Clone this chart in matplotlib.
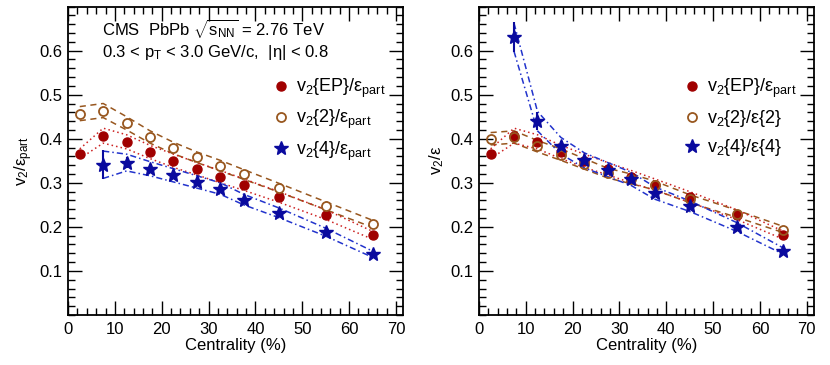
import numpy as np
import matplotlib
matplotlib.use('Agg')
import matplotlib.pyplot as plt
from matplotlib.ticker import MultipleLocator
from matplotlib.lines import Line2D

plt.rcParams['font.family'] = ['Liberation Sans', 'DejaVu Sans']
plt.rcParams['mathtext.fontset'] = 'custom'
plt.rcParams['mathtext.rm'] = 'Liberation Sans'
plt.rcParams['mathtext.it'] = 'Liberation Sans:italic'

# centrality bin centres (%)
cent = np.array([2.5, 7.5, 12.5, 17.5, 22.5, 27.5, 32.5, 37.5, 45, 55, 65])
cent4 = cent[1:]

# left panel: v2 / eps_part
ep_part = np.array([0.366, 0.407, 0.393, 0.370, 0.350, 0.332, 0.314, 0.296, 0.268, 0.228, 0.181])
ep_sys = np.array([0.011, 0.017, 0.016, 0.015, 0.015, 0.014, 0.014, 0.013, 0.012, 0.011, 0.009])
v22_part = np.array([0.457, 0.464, 0.435, 0.404, 0.379, 0.358, 0.339, 0.319, 0.289, 0.248, 0.207])
v22_sys = np.array([0.016, 0.016, 0.015, 0.014, 0.013, 0.012, 0.012, 0.011, 0.010, 0.009, 0.008])
v24_part = np.array([0.341, 0.346, 0.332, 0.317, 0.302, 0.287, 0.262, 0.232, 0.188, 0.138])
v24_err = np.array([0.033, 0.012, 0.007, 0.005, 0.004, 0.004, 0.003, 0.003, 0.003, 0.003])
v24_sys = np.array([0.031, 0.019, 0.016, 0.015, 0.014, 0.013, 0.012, 0.011, 0.009, 0.007])

# right panel: v2 / eps{n}
v22_e2 = np.array([0.400, 0.404, 0.383, 0.364, 0.343, 0.322, 0.309, 0.294, 0.264, 0.230, 0.194])
v22_e2_sys = np.array([0.014, 0.014, 0.013, 0.013, 0.012, 0.011, 0.011, 0.010, 0.009, 0.008, 0.007])
v24_e4 = np.array([0.630, 0.440, 0.384, 0.351, 0.330, 0.309, 0.277, 0.247, 0.200, 0.145])
v24_e4_err = np.array([0.034, 0.020, 0.010, 0.006, 0.004, 0.004, 0.003, 0.003, 0.003, 0.003])
v24_e4_sys = np.array([0.032, 0.022, 0.019, 0.017, 0.016, 0.015, 0.014, 0.012, 0.010, 0.007])

c_red = '#a00000'
c_brown = '#98571f'
c_blue = '#0a0a9e'

fig = plt.figure(figsize=(8.3, 3.65), dpi=100)
axL = fig.add_axes([0.082, 0.137, 0.4035, 0.845])
axR = fig.add_axes([0.577, 0.137, 0.4035, 0.845])


def band(ax, x, y, s, color, ls):
    ax.plot(x, y + s, color=color, ls=ls, lw=1.1)
    ax.plot(x, y - s, color=color, ls=ls, lw=1.1)


def style(ax, ylab):
    ax.set_xlim(0, 71.5)
    ax.set_ylim(0, 0.7)
    ax.xaxis.set_major_locator(MultipleLocator(10))
    ax.xaxis.set_minor_locator(MultipleLocator(2))
    ax.yaxis.set_minor_locator(MultipleLocator(0.02))
    ax.set_yticks([0.1, 0.2, 0.3, 0.4, 0.5, 0.6])
    ax.tick_params(which='both', direction='in', top=True, right=True, labelsize=12)
    ax.tick_params(which='major', length=10, width=1.0)
    ax.tick_params(which='minor', length=5, width=1.0)
    ax.tick_params(axis='x', pad=5)
    ax.tick_params(axis='y', pad=4)
    for sp in ax.spines.values():
        sp.set_linewidth(1.3)
    ax.set_xlabel('Centrality (%)', fontsize=12, labelpad=1)
    ax.set_ylabel(ylab, fontsize=12, labelpad=3)


# left panel
band(axL, cent, v22_part, v22_sys, c_brown, (0, (4, 3)))
band(axL, cent, ep_part, ep_sys, '#cc2222', (0, (1, 2)))
band(axL, cent4, v24_part, v24_sys, '#2233cc', (0, (4, 2, 1, 2)))
axL.plot(cent, ep_part, 'o', color=c_red, ms=6.5, ls='none')
axL.plot(cent, v22_part, 'o', mfc='white', mec=c_brown, mew=1.3, ms=6.5, ls='none')
axL.errorbar(cent4, v24_part, yerr=v24_err, fmt='*', color=c_blue, ms=10, elinewidth=1.5, capsize=0)

axL.text(0.10, 0.908, r'CMS  PbPb $\sqrt{\mathregular{s_{NN}}}$ = 2.76 TeV',
         transform=axL.transAxes, fontsize=12, va='baseline')
axL.text(0.10, 0.837, r'0.3 < $\mathregular{p_T}$ < 3.0 GeV/c,  |η| < 0.8',
         transform=axL.transAxes, fontsize=12, va='baseline')

hL = [Line2D([], [], marker='o', color=c_red, ms=6.5, ls='none'),
      Line2D([], [], marker='o', mfc='white', mec=c_brown, mew=1.3, ms=6.5, ls='none'),
      Line2D([], [], marker='*', color=c_blue, ms=10, ls='none')]
labL = [r'$\mathregular{v_2\{EP\}/ε_{part}}$',
        r'$\mathregular{v_2\{2\}/ε_{part}}$',
        r'$\mathregular{v_2\{4\}/ε_{part}}$']
axL.legend(hL, labL, loc='upper left', bbox_to_anchor=(0.565, 0.825), frameon=False,
           fontsize=13, handlelength=0.8, handletextpad=0.45, labelspacing=0.45)
style(axL, r'$\mathregular{v_2/ε_{part}}$')

# right panel
band(axR, cent, v22_e2, v22_e2_sys, c_brown, (0, (4, 3)))
band(axR, cent, ep_part, ep_sys, '#cc2222', (0, (1, 2)))
band(axR, cent4, v24_e4, v24_e4_sys, '#2233cc', (0, (4, 2, 1, 2)))
axR.plot(cent, ep_part, 'o', color=c_red, ms=6.5, ls='none')
axR.plot(cent, v22_e2, 'o', mfc='none', mec=c_brown, mew=1.3, ms=6.5, ls='none')
axR.errorbar(cent4, v24_e4, yerr=v24_e4_err, fmt='*', color=c_blue, ms=10, elinewidth=1.5, capsize=0)

labR = [r'$\mathregular{v_2\{EP\}/ε_{part}}$',
        r'$\mathregular{v_2\{2\}/ε\{2\}}$',
        r'$\mathregular{v_2\{4\}/ε\{4\}}$']
axR.legend(hL, labR, loc='upper left', bbox_to_anchor=(0.565, 0.825), frameon=False,
           fontsize=13, handlelength=0.8, handletextpad=0.45, labelspacing=0.45)
style(axR, r'$\mathregular{v_2/ε}$')

fig.savefig('out.png', dpi=100)
